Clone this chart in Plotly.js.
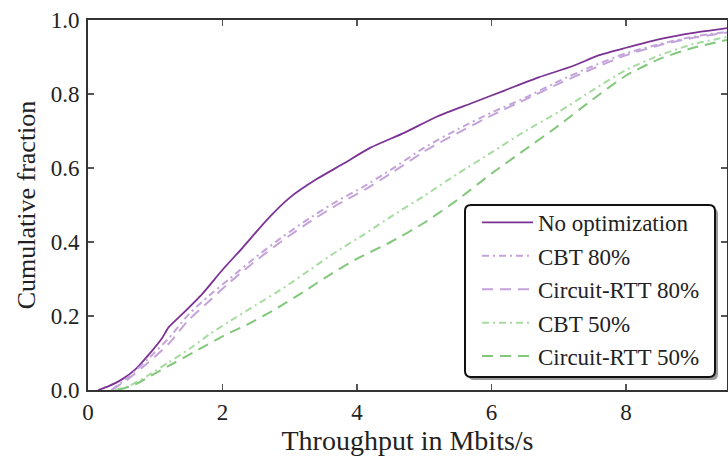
<!DOCTYPE html>
<html>
<head>
<meta charset="utf-8">
<script src="https://cdn.plot.ly/plotly-3.0.1.min.js"></script>
<style>html,body{margin:0;padding:0;background:#fff;}#chart{width:728px;height:456px;}</style>
</head>
<body>
<div id="chart"></div>
<script>
// ---- data ----
const seriesNames = ["No optimization", "CBT 80%", "Circuit-RTT 80%", "CBT 50%", "Circuit-RTT 50%"];

const noOptX = [0.15, 0.3, 0.5, 0.7, 0.9, 1.1, 1.2, 1.4, 1.7, 2.0, 2.3, 2.66, 3.0, 3.4, 3.8, 4.2, 4.7, 5.2, 5.7, 6.2, 6.7, 7.2, 7.6, 8.0, 8.5, 9.0, 9.5];
const noOptY = [0.0, 0.01, 0.028, 0.055, 0.095, 0.14, 0.17, 0.205, 0.26, 0.325, 0.385, 0.46, 0.52, 0.57, 0.612, 0.655, 0.695, 0.74, 0.775, 0.81, 0.845, 0.875, 0.905, 0.925, 0.948, 0.965, 0.978];

const cbt80X = [0.35, 0.6, 0.9, 1.2, 1.5, 1.8, 2.1, 2.5, 2.9, 3.3, 3.7, 4.1, 4.5, 5.0, 5.5, 6.0, 6.5, 7.0, 7.5, 8.0, 8.5, 9.0, 9.5];
const cbt80Y = [0.0, 0.035, 0.085, 0.14, 0.205, 0.255, 0.3, 0.36, 0.415, 0.465, 0.51, 0.55, 0.595, 0.655, 0.705, 0.75, 0.79, 0.835, 0.875, 0.91, 0.935, 0.955, 0.968];

const rtt80X = [0.35, 0.6, 0.9, 1.2, 1.5, 1.8, 2.1, 2.5, 2.9, 3.3, 3.7, 4.1, 4.5, 5.0, 5.5, 6.0, 6.5, 7.0, 7.5, 8.0, 8.5, 9.0, 9.5];
const rtt80Y = [0.0, 0.03, 0.075, 0.125, 0.19, 0.24, 0.29, 0.35, 0.405, 0.455, 0.5, 0.54, 0.585, 0.645, 0.695, 0.742, 0.785, 0.828, 0.868, 0.905, 0.932, 0.952, 0.966];

const cbt50X = [0.4, 0.6, 0.9, 1.2, 1.5, 1.8, 2.1, 2.5, 2.9, 3.3, 3.7, 4.1, 4.5, 5.0, 5.5, 6.0, 6.5, 7.0, 7.5, 8.0, 8.5, 9.0, 9.5];
const cbt50Y = [0.0, 0.01, 0.04, 0.075, 0.11, 0.15, 0.185, 0.23, 0.275, 0.325, 0.375, 0.42, 0.468, 0.525, 0.585, 0.642, 0.7, 0.752, 0.81, 0.865, 0.905, 0.935, 0.954];

const rtt50X = [0.45, 0.7, 1.0, 1.3, 1.6, 2.0, 2.4, 2.8, 3.2, 3.6, 4.0, 4.5, 5.0, 5.5, 6.0, 6.5, 7.0, 7.5, 8.0, 8.5, 9.0, 9.5];
const rtt50Y = [0.0, 0.015, 0.045, 0.075, 0.105, 0.145, 0.18, 0.22, 0.265, 0.312, 0.355, 0.4, 0.452, 0.515, 0.585, 0.65, 0.715, 0.785, 0.85, 0.895, 0.925, 0.946];

const xTicks = [0, 2, 4, 6, 8];
const yTicks = [0.0, 0.2, 0.4, 0.6, 0.8, 1.0];
const xTitle = "Throughput in Mbits/s";
const yTitle = "Cumulative fraction";

// ---- styles ----
const colors = ["#7b3294", "#c4a3da", "#c4a3da", "#a6dc9f", "#82c77b"];
const dashes = ["solid", "7px,4px,2px,4px", "11px,7px", "7px,4px,2px,4px", "11px,7px"];
const widths = [1.8, 2, 2, 2, 2];

const xs = [noOptX, cbt80X, rtt80X, cbt50X, rtt50X];
const ys = [noOptY, cbt80Y, rtt80Y, cbt50Y, rtt50Y];

const traces = seriesNames.map((n, i) => ({
  type: "scatter", mode: "lines", name: n, x: xs[i], y: ys[i],
  legendgroup: "g" + i,
  line: {color: colors[i], width: widths[i], dash: dashes[i], shape: "spline", smoothing: 0.6}
}));

// plot area in px (for legend box decoration)
const L = 88, R = 727, T = 20, B = 390;
const px2x = p => (p - L) / (R - L);
const px2y = p => (B - p) / (B - T);
function roundRect(x0, y0, x1, y1, r) {
  const X = px2x, Y = px2y;
  return `M${X(x0 + r)},${Y(y0)} L${X(x1 - r)},${Y(y0)} Q${X(x1)},${Y(y0)} ${X(x1)},${Y(y0 + r)} ` +
         `L${X(x1)},${Y(y1 - r)} Q${X(x1)},${Y(y1)} ${X(x1 - r)},${Y(y1)} L${X(x0 + r)},${Y(y1)} ` +
         `Q${X(x0)},${Y(y1)} ${X(x0)},${Y(y1 - r)} L${X(x0)},${Y(y0 + r)} Q${X(x0)},${Y(y0)} ${X(x0 + r)},${Y(y0)} Z`;
}

const font = "Liberation Serif, Times New Roman, serif";
const layout = {
  width: 728, height: 456,
  margin: {l: L, r: 728 - R, t: T, b: 456 - B},
  paper_bgcolor: "#fff", plot_bgcolor: "#fff",
  font: {family: font, color: "#222", size: 23},
  showlegend: true,
  legend: {
    x: px2x(477), y: px2y(201), xanchor: "left", yanchor: "top",
    bgcolor: "rgba(0,0,0,0)", borderwidth: 0,
    font: {family: font, size: 23, color: "#222"},
    traceorder: "grouped", tracegroupgap: 0.5, itemwidth: 51
  },
  xaxis: {
    range: [0, 9.5], tickvals: xTicks, ticktext: xTicks.map(String),
    ticks: "inside", ticklen: 6, tickwidth: 1.5, tickcolor: "#555",
    showline: true, linecolor: "#333", linewidth: 2, mirror: "allticks",
    showgrid: false, zeroline: false, ticklabelstandoff: 0,
    tickfont: {family: font, size: 23, color: "#222"},
    title: {text: xTitle, font: {family: font, size: 28, color: "#222"}, standoff: 20}
  },
  yaxis: {
    range: [0, 1], tickvals: yTicks, ticktext: yTicks.map(v => v.toFixed(1)),
    ticks: "inside", ticklen: 6, tickwidth: 1.5, tickcolor: "#555",
    showline: true, linecolor: "#333", linewidth: 2, mirror: "allticks",
    showgrid: false, zeroline: false, ticklabelstandoff: 2,
    tickfont: {family: font, size: 23, color: "#222"},
    title: {text: yTitle, font: {family: font, size: 26, color: "#222"}, standoff: 8}
  },
  shapes: [
    {type: "path", xref: "paper", yref: "paper", layer: "above", path: roundRect(468, 208, 718, 380, 6),
     fillcolor: "#9a9a9a", line: {width: 0}},
    {type: "path", xref: "paper", yref: "paper", layer: "above", path: roundRect(465, 205, 715, 377, 6),
     fillcolor: "#ffffff", line: {color: "#111", width: 2}}
  ]
};

Plotly.newPlot("chart", traces, layout, {displayModeBar: false, staticPlot: true});
</script>
</body>
</html>
